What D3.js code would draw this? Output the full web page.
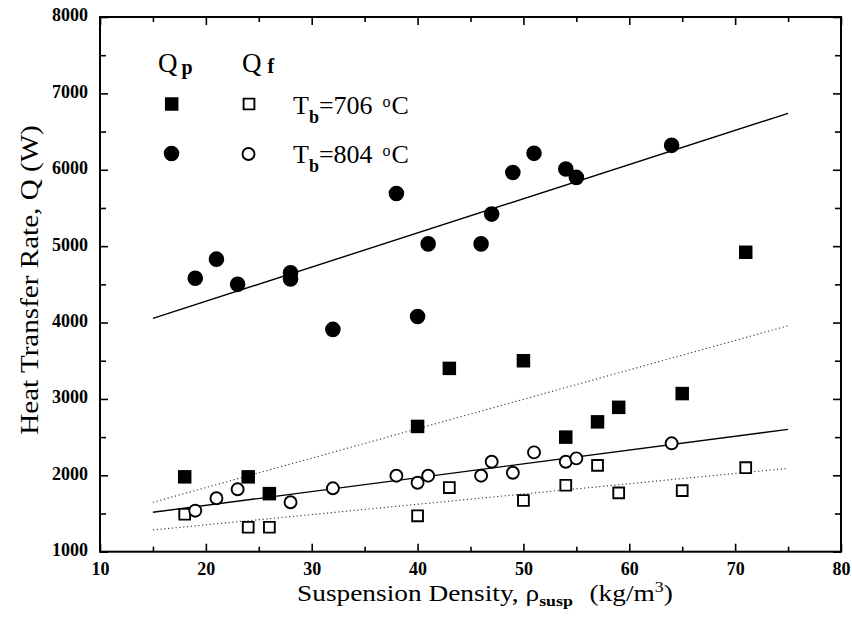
<!DOCTYPE html>
<html>
<head>
<meta charset="utf-8">
<script src="https://cdn.jsdelivr.net/npm/d3@7"></script>
<style>
  html, body { margin: 0; padding: 0; background: #fff; }
  svg { display: block; }
  text { font-family: "Liberation Serif", "Times New Roman", serif; fill: #000; }
</style>
</head>
<body>
<svg id="chart" width="852" height="635"></svg>
<script>
// ---- data ----
const xMajorTicks = [10, 20, 30, 40, 50, 60, 70, 80];
const xMinorTicks = [15, 25, 35, 45, 55, 65, 75];
const yMajorTicks = [1000, 2000, 3000, 4000, 5000, 6000, 7000, 8000];
const yMinorTicks = [1500, 2500, 3500, 4500, 5500, 6500, 7500];

// Tb = 706 C
const x706 = [18, 24, 26, 40, 43, 50, 54, 57, 59, 65, 71];
const qp706 = [1980, 1980, 1760, 2640, 3400, 3500, 2500, 2700, 2890, 3070, 4920];
const qf706 = [1490, 1320, 1320, 1470, 1840, 1670, 1870, 2130, 1770, 1800, 2100];

// Tb = 804 C
const xp804 = [19, 21, 23, 28, 28, 32, 38, 40, 41, 46, 47, 49, 51, 54, 55, 64];
const qp804 = [4580, 4830, 4500, 4650, 4570, 3910, 5690, 4080, 5030, 5030, 5420, 5965, 6215, 6010, 5900, 6320];
const xf804 = [19, 21, 23, 28, 32, 38, 40, 41, 46, 47, 49, 51, 54, 55, 64];
const qf804 = [1537, 1700, 1817, 1647, 1830, 1995, 1903, 1995, 1995, 2178, 2034, 2300, 2178, 2222, 2419];

// linear fit lines (endpoints)
const fitX = [15, 75];
const fitQp804 = [4055, 6739];
const fitQp706 = [1647, 3958];
const fitQf804 = [1516, 2602];
const fitQf706 = [1284, 2092];

// ---- layout ----
const svg = d3.select("#chart");
const L = 100, R = 841, T = 17, B = 551.7;
const x = d3.scaleLinear().domain([10, 80]).range([L, R]);
const y = d3.scaleLinear().domain([1000, 8000]).range([B, T]);

// frame
svg.append("rect").attr("x", L).attr("y", T).attr("width", R - L).attr("height", B - T)
  .attr("fill", "none").attr("stroke", "#000").attr("stroke-width", 2);

// axes (inward ticks)
function styleAxis(g) {
  g.select(".domain").remove();
  g.selectAll(".tick line").attr("stroke", "#000").attr("stroke-width", 1.6);
}
svg.append("g").attr("transform", `translate(0,${B})`)
  .call(d3.axisBottom(x).tickValues(xMajorTicks).tickSize(-8).tickPadding(11).tickFormat(d3.format("d")))
  .call(styleAxis)
  .selectAll("text").attr("font-size", 18).attr("font-weight", "bold")
  .attr("font-family", "'Liberation Serif', serif");
svg.append("g").attr("transform", `translate(0,${B})`)
  .call(d3.axisBottom(x).tickValues(xMinorTicks).tickSize(-5).tickFormat(""))
  .call(styleAxis);
svg.append("g").attr("transform", `translate(0,${T})`)
  .call(d3.axisTop(x).tickValues(xMajorTicks).tickSize(-8).tickFormat(""))
  .call(styleAxis);
svg.append("g").attr("transform", `translate(0,${T})`)
  .call(d3.axisTop(x).tickValues(xMinorTicks).tickSize(-5).tickFormat(""))
  .call(styleAxis);

svg.append("g").attr("transform", `translate(${L},0)`)
  .call(d3.axisLeft(y).tickValues(yMajorTicks).tickSize(-8).tickPadding(12).tickFormat(d3.format("d")))
  .call(styleAxis)
  .selectAll("text").attr("font-size", 18).attr("font-weight", "bold")
  .attr("font-family", "'Liberation Serif', serif").attr("dy", "0.22em");
svg.append("g").attr("transform", `translate(${L},0)`)
  .call(d3.axisLeft(y).tickValues(yMinorTicks).tickSize(-6).tickFormat(""))
  .call(styleAxis);
svg.append("g").attr("transform", `translate(${R},0)`)
  .call(d3.axisRight(y).tickValues(yMajorTicks).tickSize(-8).tickFormat(""))
  .call(styleAxis);
svg.append("g").attr("transform", `translate(${R},0)`)
  .call(d3.axisRight(y).tickValues(yMinorTicks).tickSize(-6).tickFormat(""))
  .call(styleAxis);

// fit lines
const line = d3.line().x(d => x(d[0])).y(d => y(d[1]));
function fit(vals, dotted) {
  svg.append("path").datum(fitX.map((v, i) => [v, vals[i]]))
    .attr("d", line).attr("fill", "none")
    .attr("stroke", dotted ? "#333" : "#000")
    .attr("stroke-width", dotted ? 1.1 : 1.4)
    .attr("stroke-dasharray", dotted ? "1.2,2.6" : null);
}
fit(fitQp804, false);
fit(fitQp706, true);
fit(fitQf804, false);
fit(fitQf706, true);

// markers
const filledSquare = d3.symbol().type(d3.symbolSquare).size(13.5 * 13.5);
const openSquare = d3.symbol().type(d3.symbolSquare).size(10.8 * 10.8);
const filledCircle = d3.symbol().type(d3.symbolCircle).size(Math.PI * 7.8 * 7.8);
const openCircle = d3.symbol().type(d3.symbolCircle).size(Math.PI * 6.0 * 6.0);

function points(xs, ys, sym, filled) {
  svg.append("g").selectAll("path").data(xs.map((v, i) => [v, ys[i]])).join("path")
    .attr("transform", d => `translate(${x(d[0])},${y(d[1])})`)
    .attr("d", sym)
    .attr("fill", filled ? "#000" : "#fff")
    .attr("stroke", "#000")
    .attr("stroke-width", filled ? 0 : 1.9);
}
points(x706, qf706, openSquare, false);
points(xf804, qf804, openCircle, false);
points(x706, qp706, filledSquare, true);
points(xp804, qp804, filledCircle, true);

// legend
const lg = svg.append("g");
const q1 = lg.append("text").attr("x", 158).attr("y", 72).attr("font-size", 27);
q1.append("tspan").text("Q");
q1.append("tspan").attr("dx", 4).attr("dy", 2).attr("font-size", 20).attr("font-weight", "bold").text("p");
const q2 = lg.append("text").attr("x", 242).attr("y", 72).attr("font-size", 27);
q2.append("tspan").text("Q");
q2.append("tspan").attr("dx", 6).attr("dy", 1).attr("font-size", 20).attr("font-weight", "bold").text("f");

lg.append("path").attr("transform", "translate(171.7,104)").attr("d", filledSquare).attr("fill", "#000");
lg.append("path").attr("transform", "translate(249,104)").attr("d", openSquare)
  .attr("fill", "#fff").attr("stroke", "#000").attr("stroke-width", 1.9);
lg.append("path").attr("transform", "translate(171.5,153.5)").attr("d", filledCircle).attr("fill", "#000");
lg.append("path").attr("transform", "translate(248.5,154)").attr("d", openCircle)
  .attr("fill", "#fff").attr("stroke", "#000").attr("stroke-width", 1.9);

function tbLabel(yBase, temp) {
  const t = lg.append("text").attr("x", 293).attr("y", yBase).attr("font-size", 26);
  t.append("tspan").text("T");
  t.append("tspan").attr("dy", 9).attr("font-size", 18).attr("font-weight", "bold").text("b");
  t.append("tspan").attr("dy", -9).text("=" + temp);
  t.append("tspan").attr("dx", 10).attr("dy", -7).attr("font-size", 16).text("o");
  t.append("tspan").attr("dx", 1).attr("dy", 7).text("C");
}
tbLabel(114, "706");
tbLabel(163, "804");

// axis titles
const xt = svg.append("text").attr("transform", "translate(297,601) scale(1.19,1)").attr("font-size", 23);
xt.append("tspan").text("Suspension Density, ");
xt.append("tspan").text("\u03C1");
xt.append("tspan").attr("dy", 5).attr("font-size", 15).attr("font-weight", "bold").text("susp");
xt.append("tspan").attr("dx", 14).attr("dy", -5).text("(kg/m");
xt.append("tspan").attr("dy", -9).attr("font-size", 15).text("3");
xt.append("tspan").attr("dy", 9).text(")");

svg.append("text").attr("transform", "translate(38,280) rotate(-90) scale(1.12,1)")
  .attr("text-anchor", "middle").attr("font-size", 26)
  .text("Heat Transfer Rate, Q (W)");
</script>
</body>
</html>
